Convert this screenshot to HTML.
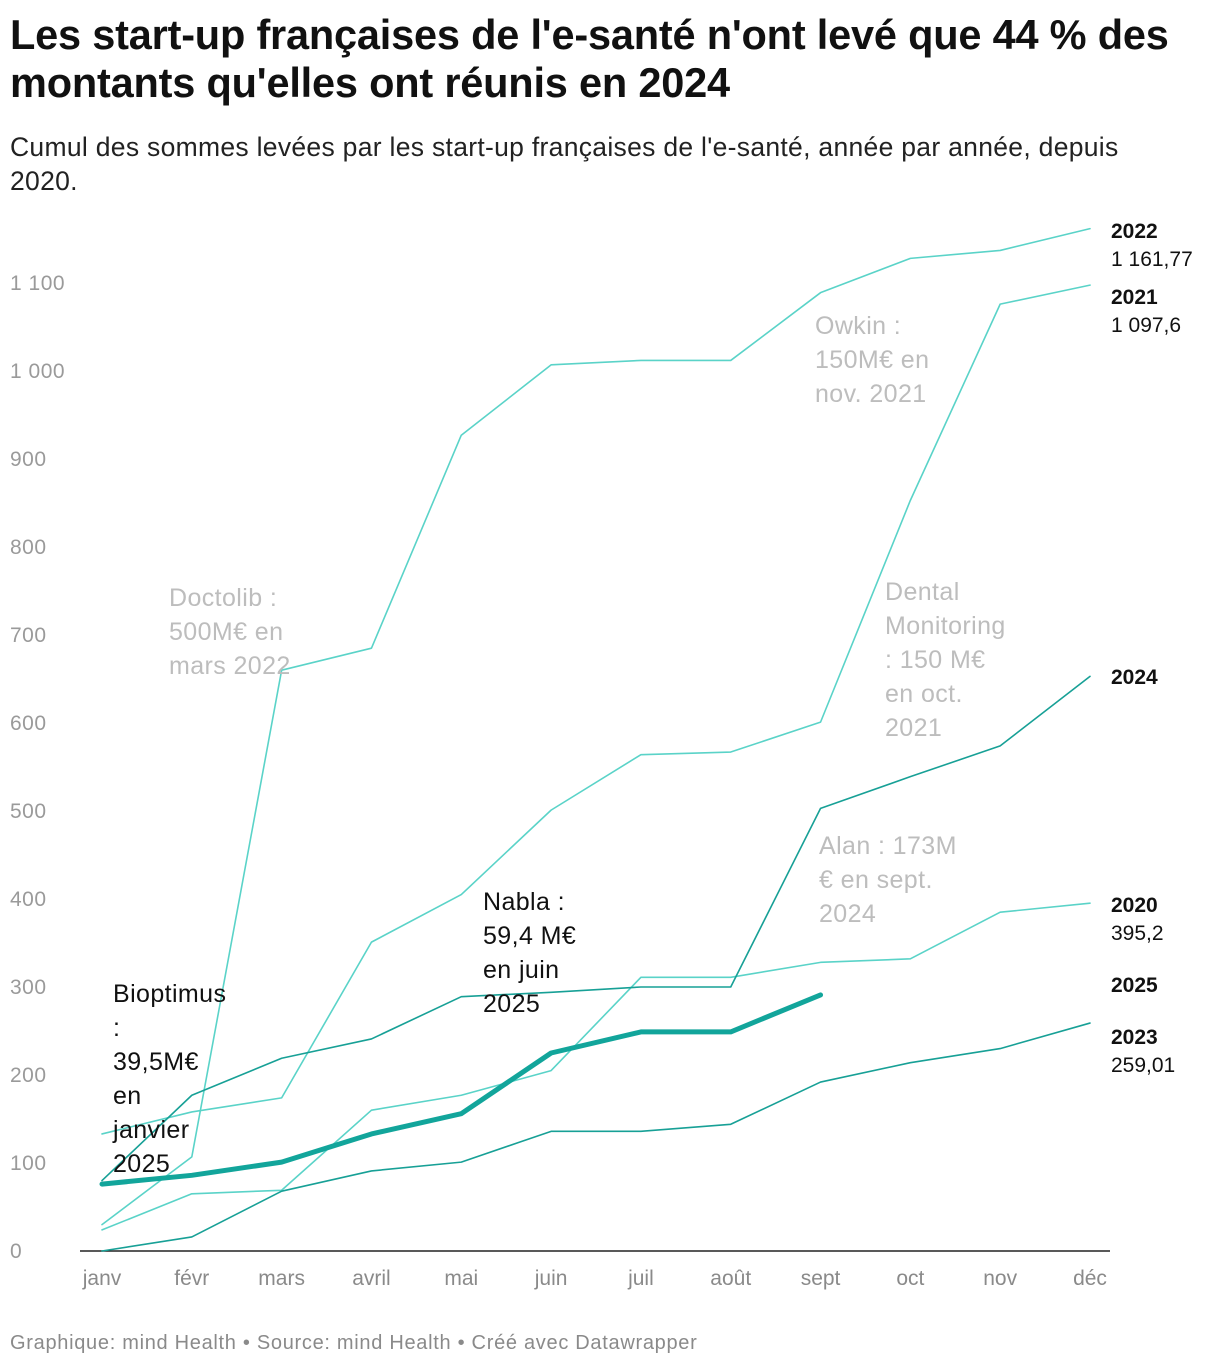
<!DOCTYPE html>
<html><head><meta charset="utf-8"><style>
body{margin:0;background:#fff;font-family:"Liberation Sans",sans-serif;}
#wrap{position:relative;width:1220px;height:1368px;overflow:hidden}
h1{position:absolute;left:10px;top:11px;margin:0;font-size:41.5px;line-height:48px;font-weight:bold;color:#111;letter-spacing:-0.2px;white-space:nowrap}
.sub{position:absolute;left:10px;top:130px;font-size:26.5px;line-height:34px;color:#222;letter-spacing:0.3px;white-space:nowrap}
.foot{position:absolute;left:10px;top:1332px;font-size:20px;color:#8a8a8a;letter-spacing:0.7px}
</style></head><body>
<div id="wrap">
<h1>Les start-up françaises de l'e-santé n'ont levé que 44 % des<br>montants qu'elles ont réunis en 2024</h1>
<div class="sub">Cumul des sommes levées par les start-up françaises de l'e-santé, année par année, depuis<br>2020.</div>
<svg id="chart" width="1220" height="1368" style="position:absolute;left:0;top:0"></svg>
<div class="foot">Graphique: mind Health • Source: mind Health • Créé avec Datawrapper</div>
</div>
<script>
const months=["janv","févr","mars","avril","mai","juin","juil","août","sept","oct","nov","déc"];
const yTicks=[0,100,200,300,400,500,600,700,800,900,1000,1100];
const yTickLabels=["0","100","200","300","400","500","600","700","800","900","1 000","1 100"];
const s2020=[24,65,69,160,177,205,311,311,328,332,385,395.2];
const s2021=[133,158,174,351,405,501,564,567,601,853,1076,1097.6];
const s2022=[30,107,660,685,927,1007,1012,1012,1089,1128,1137,1161.77];
const s2023=[0,16,68,91,101,136,136,144,192,214,230,259.01];
const s2024=[80,177,219,241,289,294,300,300,503,539,574,653];
const s2025=[76,86,101,133,156,225,249,249,291];
const seriesNames=["2020","2021","2022","2023","2024","2025"];
const seriesLast=["395,2","1 097,6","1 161,77","259,01","",""];
const NS="http://www.w3.org/2000/svg";
const svg=document.getElementById('chart');
const x=i=>102+i*(1090-102)/11;
const y=v=>1251-v*0.88;
function el(t,a){const e=document.createElementNS(NS,t);for(const k in a)e.setAttribute(k,a[k]);svg.appendChild(e);return e;}
yTicks.forEach((v,i)=>{const t=el('text',{x:10,y:y(v)+7,'font-size':21,fill:'#9a9a9a','letter-spacing':0.5});t.textContent=yTickLabels[i];

});
const ax=el('line',{x1:80,x2:1110,y1:1251,y2:1251,stroke:'#222','stroke-width':1.5});


months.forEach((m,i)=>{const t=el('text',{x:x(i),y:1285,'font-size':21,fill:'#8a8a8a','text-anchor':'middle'});t.textContent=m;

});
const data=[s2020,s2021,s2022,s2023,s2024,s2025];
const colors=['#5ad3c8','#5ad3c8','#5ad3c8','#17a096','#17a096','#12a59b'];
const widths=[1.6,1.6,1.6,1.6,1.6,5];
data.forEach((d,k)=>{const p=el('polyline',{points:d.map((v,i)=>x(i)+','+y(v)).join(' '),fill:'none',stroke:colors[k],'stroke-width':widths[k],'stroke-linejoin':'round','stroke-linecap':'round'});

});
const labelY={"2022":238,"2021":304,"2024":684,"2020":912,"2025":992,"2023":1044};
seriesNames.forEach((n,k)=>{const t=el('text',{x:1111,y:labelY[n],'font-size':21,'font-weight':'bold',fill:'#111'});t.textContent=n;


if(seriesLast[k]){const v=el('text',{x:1111,y:labelY[n]+28,'font-size':21,fill:'#111'});v.textContent=seriesLast[k];

}});
function note(x0,y0,lines,col,name){lines.forEach((l,i)=>{const t=el('text',{x:x0,y:y0+i*34,'font-size':25,fill:col,'letter-spacing':0.4});t.textContent=l;

});}
note(169,606,["Doctolib :","500M€ en","mars 2022"],'#bdbdbd','annotation-doctolib');
note(815,334,["Owkin :","150M€ en","nov. 2021"],'#bdbdbd','annotation-owkin');
note(885,600,["Dental","Monitoring",": 150 M€","en oct.","2021"],'#bdbdbd','annotation-dental-monitoring');
note(819,854,["Alan : 173M","€ en sept.","2024"],'#bdbdbd','annotation-alan');
note(483,910,["Nabla :","59,4 M€","en juin","2025"],'#111','annotation-nabla');
note(113,1002,["Bioptimus",":","39,5M€","en","janvier","2025"],'#111','annotation-bioptimus');
</script>
</body></html>
